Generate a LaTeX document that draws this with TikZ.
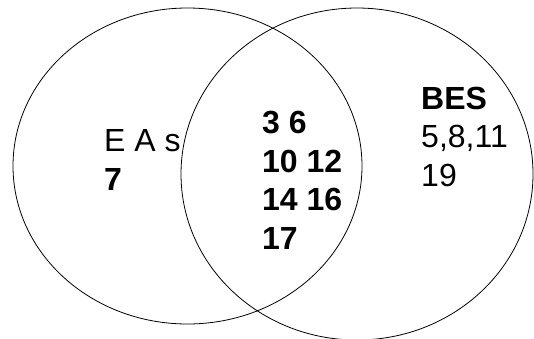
\documentclass[tikz,border=0pt]{standalone}
\usepackage{fontspec}
\setmainfont{Liberation Sans}
\usepackage{tikz}
\usetikzlibrary{positioning}
\definecolor{setline}{RGB}{0, 0, 0}

\begin{document}
\begin{tikzpicture}[
    x=1pt, y=-1pt,
    setring/.style={draw=setline, line width=0.8pt},
    setlabel/.style={anchor=base west, inner sep=0pt, align=left,
                     font=\fontsize{32}{38.5}\selectfont},
    shared/.style={setlabel, font=\fontsize{32}{38.5}\selectfont\bfseries}
]
    \useasboundingbox (0,0) rectangle (534,338);

    % The two sets
    \draw[setring] (187.5,166) ellipse [x radius=174.5, y radius=158];
    \draw[setring] (357,174) ellipse [x radius=176, y radius=166];

    % Labels (anchored at the baseline of the last line)
    \node[setlabel] (eas) at (104,190) {E A s\\\textbf{7}};
    \node[shared]   (both) at (262,249) {3 6\\10 12\\14 16\\17};
    \node[setlabel] (bes) at (421,186) {\textbf{BES}\\5,8,11\\19};
\end{tikzpicture}
\end{document}
